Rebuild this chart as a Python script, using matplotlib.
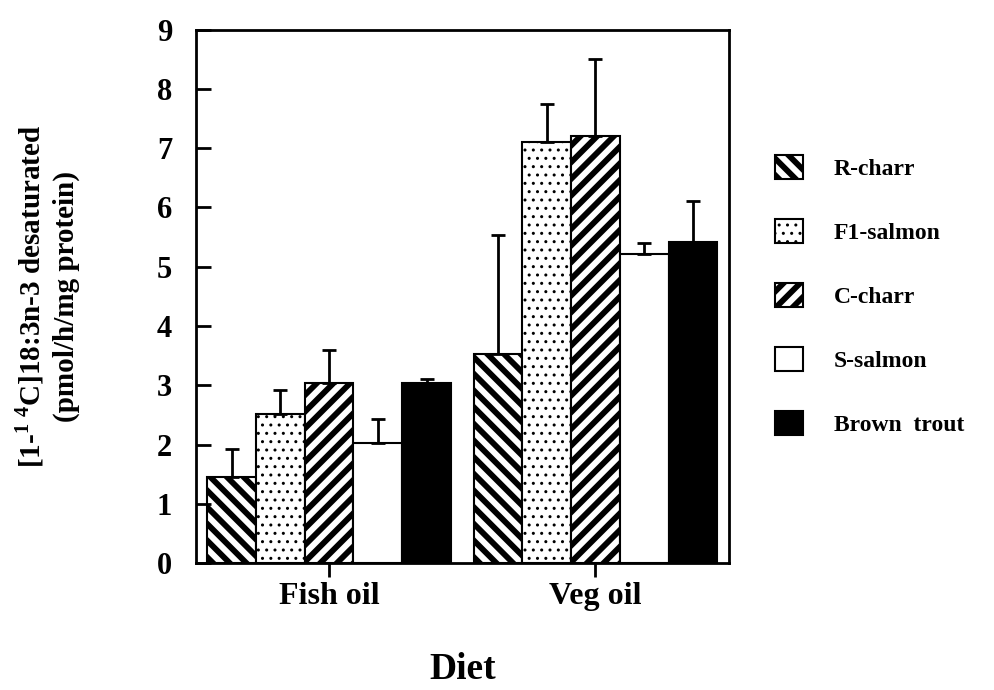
import numpy as np
import matplotlib
matplotlib.use("Agg")
import matplotlib.pyplot as plt

plt.rcParams['font.family'] = 'Liberation Serif'
plt.rcParams['font.weight'] = 'bold'
plt.rcParams['axes.labelweight'] = 'bold'
plt.rcParams['mathtext.fontset'] = 'custom'
plt.rcParams['mathtext.rm'] = 'Liberation Serif:bold'
plt.rcParams['mathtext.bf'] = 'Liberation Serif:bold'
plt.rcParams['hatch.linewidth'] = 4.2

diets = ["Fish oil", "Veg oil"]
species = ["R-charr", "F1-salmon", "C-charr", "S-salmon", "Brown  trout"]
means = [[1.45, 3.52],
         [2.51, 7.11],
         [3.03, 7.21],
         [2.03, 5.22],
         [3.03, 5.41]]
errs = [[0.48, 2.01],
        [0.41, 0.63],
        [0.57, 1.29],
        [0.40, 0.18],
        [0.08, 0.70]]
hatches = ['\\\\', '..', '//', '', '']
faces = ['white', 'white', 'white', 'white', 'black']

fig = plt.figure(figsize=(9.94, 6.9), dpi=100)
ax = fig.add_axes([0.197, 0.184, 0.536, 0.773])

x = np.arange(len(diets))
w = 0.183
for i in range(len(species)):
    pos = x + (i - 2) * w
    bars = ax.bar(pos, means[i], w, color=faces[i], edgecolor='black',
                  linewidth=1.5, hatch=hatches[i], label=species[i])
    if hatches[i] == '..':
        for b in bars:
            try:
                b.set_hatch_linewidth(1.0)
            except AttributeError:
                pass
    ax.errorbar(pos, means[i], yerr=[np.zeros(len(diets)), errs[i]], fmt='none',
                ecolor='black', elinewidth=2, capsize=5, capthick=2)

ax.set_xlim(-0.5, 1.5)
ax.set_ylim(0, 9)
ax.set_yticks(range(10))
ax.set_xticks(x)
ax.set_xticklabels(diets)
ax.tick_params(axis='y', direction='in', length=11, width=2, labelsize=22, pad=17)
ax.tick_params(axis='x', direction='out', length=10, width=2, labelsize=23, pad=4)
for s in ax.spines.values():
    s.set_linewidth(2)

ax.set_xlabel("Diet", fontsize=27, labelpad=29)
ax.set_ylabel("[1-$^{1\\ 4}$C]18:3n-3 desaturated\n(pmol/h/mg protein)",
              fontsize=21, linespacing=1.3)
ax.yaxis.set_label_coords(-0.218, 0.5)

leg = ax.legend(loc='upper left', bbox_to_anchor=(1.065, 0.787), frameon=False,
                fontsize=17, handlelength=1.2, handleheight=1.2,
                labelspacing=1.65, handletextpad=1.3, borderpad=0)
for h, hp in zip(leg.legend_handles, hatches):
    if hp == '..':
        try:
            h.set_hatch_linewidth(1.0)
        except AttributeError:
            pass

fig.savefig("out.png", dpi=100)
